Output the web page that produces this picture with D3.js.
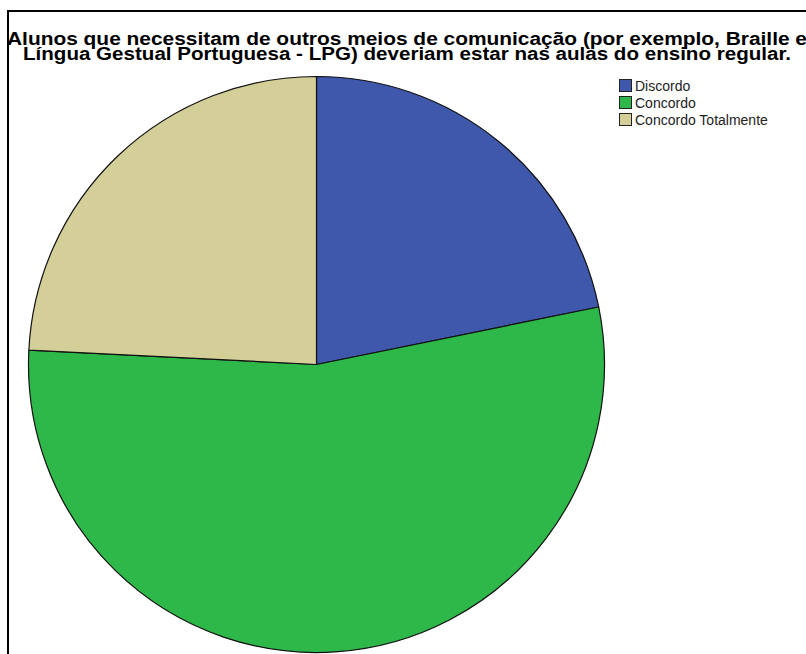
<!DOCTYPE html>
<html>
<head>
<meta charset="utf-8">
<script src="https://cdn.jsdelivr.net/npm/d3@7"></script>
<style>
  html, body { margin: 0; padding: 0; background: #fff; }
  svg { display: block; }
</style>
</head>
<body>
<svg id="chart" width="806" height="654"></svg>
<script>
const titleLines = [
  "Alunos que necessitam de outros meios de comunicação (por exemplo, Braille e",
  "Língua Gestual Portuguesa - LPG) deveriam estar nas aulas do ensino regular."
];
const categories = ["Discordo", "Concordo", "Concordo Totalmente"];
const values = [21.8, 54.0, 24.2];
const colors = ["#3f58ac", "#2fb84a", "#d4cf98"];

const svg = d3.select("#chart");

// outer frame (extends past right/bottom edges)
svg.append("rect")
  .attr("x", 8).attr("y", 11)
  .attr("width", 820).attr("height", 680)
  .attr("fill", "none").attr("stroke", "#000").attr("stroke-width", 2);

// title
const titleWidths = [800, 768];
svg.append("g").selectAll("text")
  .data(titleLines).join("text")
  .attr("x", 407)
  .attr("y", (d, i) => 45 + i * 15)
  .attr("text-anchor", "middle")
  .attr("font-family", "'Liberation Sans', Arial, sans-serif")
  .attr("font-weight", "bold")
  .attr("font-size", 17.5)
  .attr("textLength", (d, i) => titleWidths[i])
  .attr("lengthAdjust", "spacingAndGlyphs")
  .attr("fill", "#000")
  .text(d => d);

// pie
const cx = 316.5, cy = 364.5, r = 288;
const color = d3.scaleOrdinal().domain(categories).range(colors);
const pie = d3.pie().sort(null).value(d => d.v);
const arc = d3.arc().innerRadius(0).outerRadius(r);
const data = categories.map((c, i) => ({ c, v: values[i] }));

svg.append("g")
  .attr("transform", `translate(${cx},${cy})`)
  .selectAll("path")
  .data(pie(data)).join("path")
  .attr("d", arc)
  .attr("fill", d => color(d.data.c))
  .attr("stroke", "#111")
  .attr("stroke-width", 1.2)
  .attr("stroke-linejoin", "round");

// legend
const lg = svg.append("g").attr("transform", "translate(619,79)");
const items = lg.selectAll("g").data(categories).join("g")
  .attr("transform", (d, i) => `translate(0,${i * 17})`);
items.append("rect")
  .attr("x", 0.5).attr("y", 0.5)
  .attr("width", 12).attr("height", 12)
  .attr("fill", d => color(d))
  .attr("stroke", "#222").attr("stroke-width", 1);
items.append("text")
  .attr("x", 16).attr("y", 11.5)
  .attr("font-family", "'Liberation Sans', Arial, sans-serif")
  .attr("font-size", 14)
  .attr("fill", "#222")
  .text(d => d);
</script>
</body>
</html>
